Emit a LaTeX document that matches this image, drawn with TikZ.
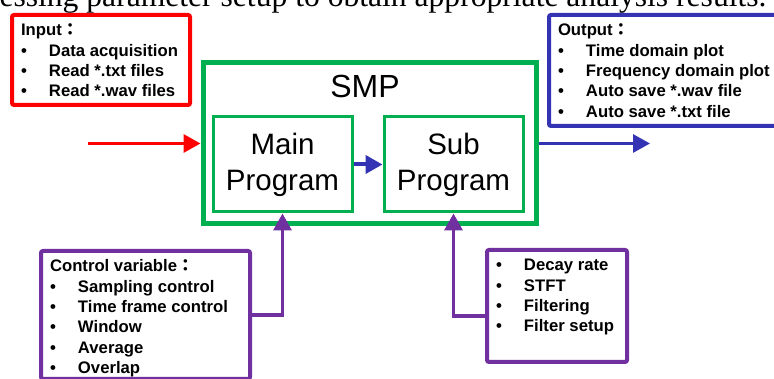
\documentclass[tikz,border=0pt]{standalone}
\usepackage{fontspec}
\setmainfont{Liberation Sans}
\newfontfamily\capfont{Liberation Serif}
\newfontfamily\cjk{Noto Sans CJK TC}
\usepackage{xcolor}
\usepackage{tikz}
\usetikzlibrary{arrows.meta,positioning}

\definecolor{inred}{RGB}{255,0,0}
\definecolor{smpgreen}{RGB}{0,176,80}
\definecolor{outblue}{RGB}{51,51,180}
\definecolor{ctrlpurple}{RGB}{112,48,160}

\newcommand{\itm}[1]{\makebox[28pt][l]{\textbullet}#1}
\newcommand{\ttl}[1]{\rule{0pt}{21pt}#1{\cjk ：}}

\begin{document}
\begin{tikzpicture}[x=1pt, y=1pt, font=\fontsize{16.7}{20.3}\selectfont\bfseries, lst/.style={draw, line width=4pt, rounded corners=2pt, inner xsep=9pt, inner ysep=0pt}, prog/.style={draw=smpgreen, line width=3pt, minimum width=139pt, minimum height=95pt, align=center, inner sep=0pt, font=\fontsize{29.5}{36}\selectfont}, arr/.style={-{Triangle[length=17pt,width=18pt]}, line width=3.3pt}]
\useasboundingbox (0,0) rectangle (774,379);
\clip (0,0) rectangle (774,379);
\node[anchor=base west, font=\capfont\fontsize{31.6}{36}\selectfont] (cap) at (-4,372) {essing parameter setup to obtain appropriate analysis results.};

\node[draw=smpgreen, line width=5pt, minimum width=333pt, minimum height=161pt] (smp) at (369.5,235.5) {};
\node[anchor=base, font=\fontsize{32}{36}\selectfont] (smpt) at (365,281) {SMP};
\node[prog] (main) at (282.5,214.5) {Main\\Program};
\node[prog, right=29pt of main] (sub) {Sub\\Program};

\node[lst, draw=inred] (in) at (101,319) {\begin{minipage}[t][90pt][t]{160pt}\ttl{Input}\\\itm{Data acquisition}\\\itm{Read *.txt files}\\\itm{Read *.wav files}\end{minipage}};
\node[lst, draw=outblue] (out) at (669,308.5) {\begin{minipage}[t][111pt][t]{222pt}\ttl{Output}\\\itm{Time domain plot}\\\itm{Frequency domain plot}\\\itm{Auto save *.wav file}\\\itm{Auto save *.txt file}\end{minipage}};
\node[lst, draw=ctrlpurple] (ctrl) at (145.5,64) {\begin{minipage}[t][128pt][t]{191pt}\ttl{Control variable}\\\itm{Sampling control}\\\itm{Time frame control}\\\itm{Window}\\\itm{Average}\\\itm{Overlap}\end{minipage}};
\node[lst, draw=ctrlpurple] (dec) at (557,73) {\begin{minipage}[t][112pt][t]{122pt}\rule{0pt}{21pt}\itm{Decay rate}\\\itm{STFT}\\\itm{Filtering}\\\itm{Filter setup}\end{minipage}};

\coordinate (src) at (88,235.5);
\coordinate (dst) at (650,235.5);
\draw[arr, inred] (src) -- (smp.west);
\draw[arr, outblue, line width=4pt] (main.east) -- (sub.west);
\draw[arr, outblue, line width=3pt] (smp.east) -- (dst);
\draw[arr, ctrlpurple, line width=3.5pt] (ctrl.east) -| (main.south);
\draw[arr, ctrlpurple, line width=3.5pt] ([yshift=-10pt]dec.west) -| (sub.south);
\end{tikzpicture}
\end{document}
